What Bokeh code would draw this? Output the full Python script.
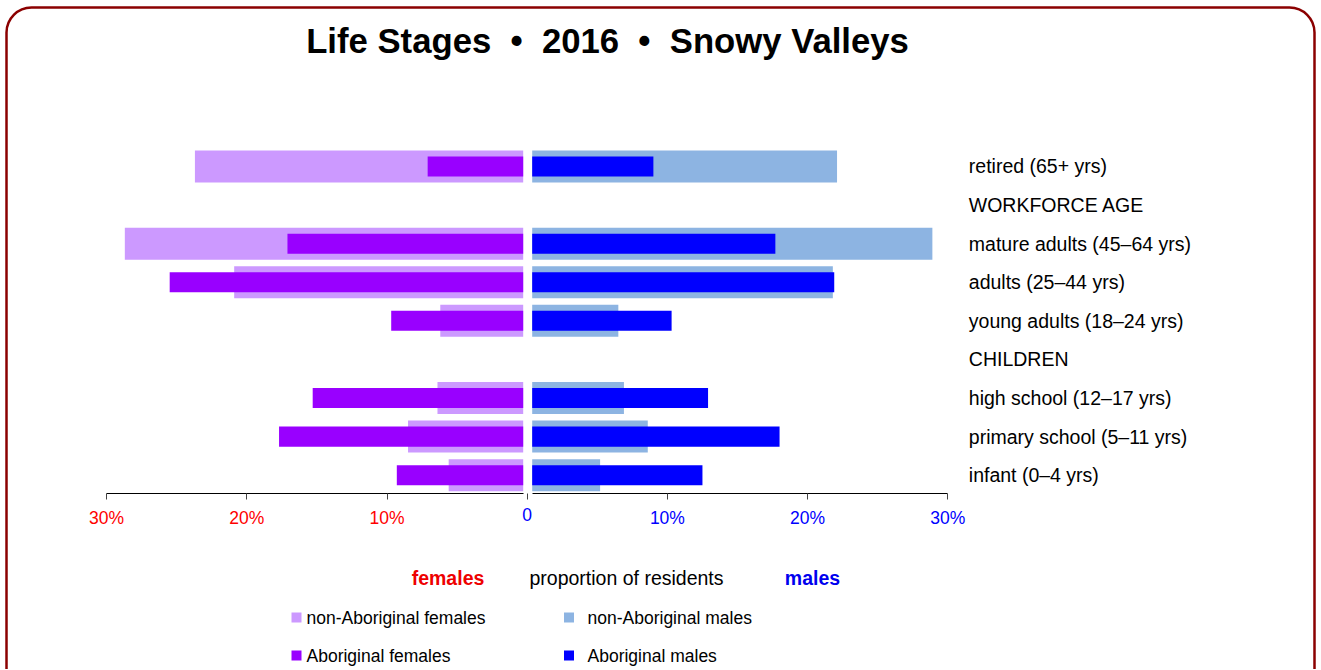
from bokeh.plotting import figure
from bokeh.models import Range1d, LinearAxis, FixedTicker, BoxAnnotation
from bokeh.core.properties import value
from bokeh.embed import file_html
from bokeh.resources import INLINE

# ---------------- data ----------------
categories = [
    "retired (65+ yrs)",
    "WORKFORCE AGE",
    "mature adults (45–64 yrs)",
    "adults (25–44 yrs)",
    "young adults (18–24 yrs)",
    "CHILDREN",
    "high school (12–17 yrs)",
    "primary school (5–11 yrs)",
    "infant (0–4 yrs)",
]
female_non_aboriginal = [23.7, None, 28.7, 20.9, 6.2, None, 6.4, 8.5, 5.6]
female_aboriginal = [7.1, None, 17.1, 25.5, 9.7, None, 15.3, 17.7, 9.3]
male_non_aboriginal = [22.1, None, 28.9, 21.8, 6.5, None, 6.9, 8.6, 5.2]
male_aboriginal = [9.0, None, 17.7, 21.9, 10.3, None, 12.9, 18.0, 12.5]

female_ticks = [-30, -20, -10]
female_tick_labels = ["30%", "20%", "10%"]
zero_ticks = [0]
zero_tick_labels = ["0"]
male_ticks = [10, 20, 30]
male_tick_labels = ["10%", "20%", "30%"]

TITLE = "Life Stages \u00a0•\u00a0 2016 \u00a0•\u00a0 Snowy Valleys"
legend_labels = ["non-Aboriginal females", "Aboriginal females",
                 "non-Aboriginal males", "Aboriginal males"]

# ---------------- layout (pixels) ----------------
W, H = 1320, 669
ZERO_X = 526.7
PX_PER_PCT = 14.02
ROW0_Y = 474.7
ROW_PX = 38.59
FONT = "Liberation Sans"

def X(px):
    return (px - ZERO_X) / PX_PER_PCT

def Y(py):
    return (ROW0_Y - py) / ROW_PX

GAP_F = 4.0 / PX_PER_PCT
GAP_M = 5.0 / PX_PER_PCT

C_F_NON = "#cc99ff"
C_F_AB = "#9900ff"
C_M_NON = "#8db4e2"
C_M_AB = "#0000ff"

p = figure(width=W, height=H, output_backend="svg", toolbar_location=None,
           x_axis_type=None, y_axis_type=None,
           x_range=Range1d(X(0), X(W)), y_range=Range1d(Y(H), Y(0)),
           min_border=0, outline_line_color=None,
           background_fill_color="white", border_fill_color="white")
p.title.visible = False

n = len(categories)

def rows(vals):
    ys, vs = [], []
    for i, v in enumerate(vals):
        if v is not None:
            ys.append(n - 1 - i)
            vs.append(v)
    return ys, vs

ys, vs = rows(female_non_aboriginal)
p.hbar(y=ys, left=[-v for v in vs], right=-GAP_F, height=0.83,
       fill_color=C_F_NON, line_color=None)
ys, vs = rows(female_aboriginal)
p.hbar(y=ys, left=[-v for v in vs], right=-GAP_F, height=0.52,
       fill_color=C_F_AB, line_color=None)
ys, vs = rows(male_non_aboriginal)
p.hbar(y=ys, left=GAP_M, right=vs, height=0.83,
       fill_color=C_M_NON, line_color=None)
ys, vs = rows(male_aboriginal)
p.hbar(y=ys, left=GAP_M, right=vs, height=0.52,
       fill_color=C_M_AB, line_color=None)

AXIS_Y = -0.48

def x_axis(ticks, labels, color, bounds, line=True):
    ax = LinearAxis(fixed_location=AXIS_Y,
                    ticker=FixedTicker(ticks=ticks),
                    major_label_overrides={t: l for t, l in zip(ticks, labels)})
    if bounds is not None:
        ax.bounds = bounds
    ax.axis_line_color = "black" if line else None
    ax.axis_line_width = 1
    ax.major_tick_line_color = "#444444"
    ax.major_tick_out = 6
    ax.major_tick_in = 0
    ax.minor_tick_line_color = None
    ax.major_label_text_color = color
    ax.major_label_text_font = FONT
    ax.major_label_text_font_size = "17.5px"
    ax.major_label_standoff = 8
    p.add_layout(ax, "below")

x_axis(female_ticks, female_tick_labels, "#ff0000", (-30.01, -GAP_F))
x_axis(zero_ticks, zero_tick_labels, "#0000ff", None, line=False)
x_axis(male_ticks, male_tick_labels, "#0000ff", (GAP_M, 30.01))

yax = LinearAxis(fixed_location=30,
                 ticker=FixedTicker(ticks=list(range(n))),
                 major_label_overrides={n - 1 - i: c for i, c in enumerate(categories)})
yax.axis_line_color = None
yax.major_tick_line_color = None
yax.major_tick_out = 0
yax.major_tick_in = 0
yax.minor_tick_line_color = None
yax.major_label_standoff = 21
yax.major_label_text_font = FONT
yax.major_label_text_font_size = "19.5px"
yax.major_label_text_color = "black"
p.add_layout(yax, "right")

# title
p.text(x=[X(607)], y=[Y(40)], text=[TITLE], text_font=value(FONT),
       text_font_style="bold", text_font_size="34.7px", text_align="center",
       text_baseline="middle", text_color="black")

# bottom captions
p.text(x=[X(447.5)], y=[Y(577)], text=["females"], text_font=value(FONT),
       text_font_style="bold", text_font_size="19.5px", text_align="center",
       text_baseline="middle", text_color="#ee0000")
p.text(x=[X(626)], y=[Y(577)], text=["proportion of residents"], text_font=value(FONT),
       text_font_size="19.5px", text_align="center",
       text_baseline="middle", text_color="black")
p.text(x=[X(812)], y=[Y(577)], text=["males"], text_font=value(FONT),
       text_font_style="bold", text_font_size="19.5px", text_align="center",
       text_baseline="middle", text_color="#0000ee")

# legend
leg_sq_x = [X(296), X(296), X(568.5), X(568.5)]
leg_tx_x = [X(306), X(306), X(587), X(587)]
leg_y = [Y(617), Y(655), Y(617), Y(655)]
leg_colors = [C_F_NON, C_F_AB, C_M_NON, C_M_AB]
p.scatter(x=leg_sq_x, y=leg_y, marker="square", size=10,
          fill_color=leg_colors, line_color=None)
p.text(x=leg_tx_x, y=leg_y, text=legend_labels, text_font=value(FONT),
       text_font_size="17.5px", text_align="left", text_baseline="middle",
       text_color="black")

# rounded frame
p.add_layout(BoxAnnotation(left=X(6), right=X(1314), top=Y(7), bottom=Y(H + 60),
                           fill_color=None, fill_alpha=0,
                           line_color="#8b0000", line_alpha=1, line_width=2.5,
                           border_radius=25))

open("out.html", "w").write(file_html(p, INLINE))
